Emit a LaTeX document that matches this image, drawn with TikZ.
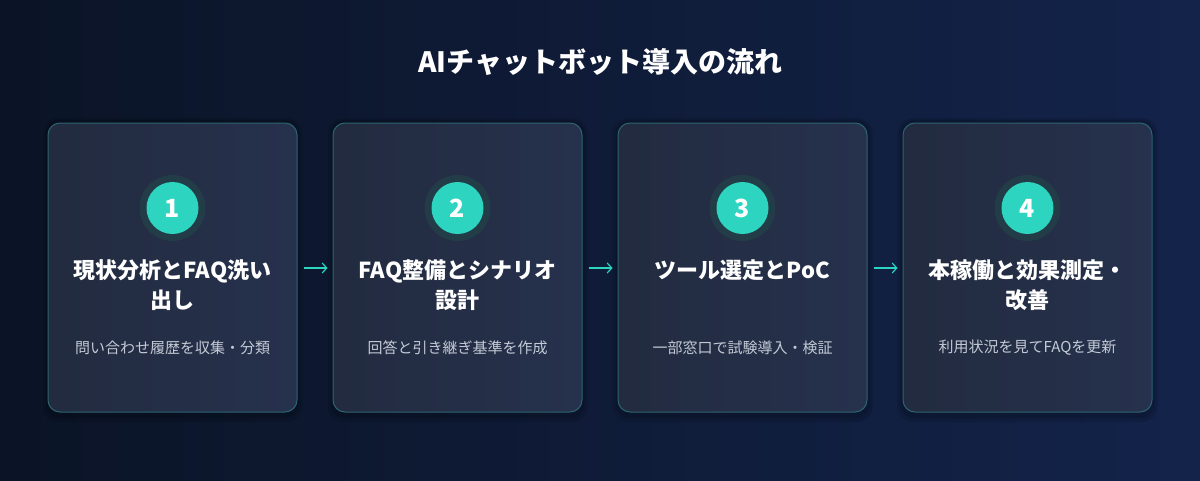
\documentclass[tikz,border=0pt]{standalone}
\usepackage{fontspec}
\setmainfont{Noto Sans CJK JP}
\usetikzlibrary{arrows.meta}
\definecolor{bgleft}{HTML}{0B1426}
\definecolor{bgright}{HTML}{13234A}
\definecolor{cardleft}{HTML}{222B3F}
\definecolor{cardright}{HTML}{26314D}
\definecolor{cardline}{HTML}{2C6470}
\definecolor{teal}{HTML}{2DD4BF}
\definecolor{ringcol}{HTML}{223C48}
\definecolor{subcol}{HTML}{C3CAD6}

\begin{document}
\begin{tikzpicture}[x=1pt,y=-1pt,
    card/.style={rectangle, rounded corners=12pt, draw=cardline, line width=1pt, left color=cardleft, right color=cardright, minimum width=249pt, minimum height=289pt},
    ring/.style={circle, fill=ringcol, minimum size=66pt, inner sep=0pt},
    badge/.style={circle, fill=teal, text=white, minimum size=52pt, inner sep=0pt, font=\bfseries\fontsize{25}{25}\selectfont},
    heading/.style={text=white, align=center, font=\bfseries\fontsize{22}{30}\selectfont},
    note/.style={text=subcol, font=\fontsize{15}{18}\selectfont},
    flow/.style={-{Straight Barb[length=4.5pt,width=10pt]}, teal, line width=1.2pt, shorten <=6pt, shorten >=5pt}]
  \useasboundingbox (0,0) rectangle (1200,480);
  \shade[left color=bgleft, right color=bgright] (0,0) rectangle (1200,480); % background
  \node[text=white, font=\bfseries\fontsize{28}{28}\selectfont] (title) at (600,62) {AIチャットボット導入の流れ};
  % shadows under the cards
  \foreach \cx in {172.5, 457.5, 742.5, 1027.5} {
    \fill[black, opacity=0.12, rounded corners=16pt] (\cx-130,118) rectangle (\cx+130,422);
    \fill[black, opacity=0.12, rounded corners=14pt] (\cx-127,120) rectangle (\cx+127,418);
  }
  \node[card] (s1) at (172.5,267.5) {};
  \node[card] (s2) at (457.5,267.5) {};
  \node[card] (s3) at (742.5,267.5) {};
  \node[card] (s4) at (1027.5,267.5) {};
  % number badges
  \foreach \i/\cx in {1/172.5, 2/457.5, 3/742.5, 4/1027.5} {
    \node[ring] (r\i) at (\cx,208) {};
    \node[badge] (b\i) at (\cx,208) {\i};
  }
  \node[heading] (h1) at (172.5,285) {現状分析とFAQ洗い\\出し};
  \node[heading] (h2) at (457.5,285) {FAQ整備とシナリオ\\設計};
  \node[heading] (h3) at (742.5,270) {ツール選定とPoC};
  \node[heading] (h4) at (1027.5,285) {本稼働と効果測定・\\改善};
  \node[note] (n1) at (172.5,348) {問い合わせ履歴を収集・分類};
  \node[note] (n2) at (457.5,348) {回答と引き継ぎ基準を作成};
  \node[note] (n3) at (742.5,348) {一部窓口で試験導入・検証};
  \node[note] (n4) at (1027.5,348) {利用状況を見てFAQを更新};
  % arrows between the steps
  \draw[flow] ([yshift=-0.5pt]s1.east) -- ([yshift=-0.5pt]s2.west);
  \draw[flow] ([yshift=-0.5pt]s2.east) -- ([yshift=-0.5pt]s3.west);
  \draw[flow] ([yshift=-0.5pt]s3.east) -- ([yshift=-0.5pt]s4.west);
\end{tikzpicture}
\end{document}
